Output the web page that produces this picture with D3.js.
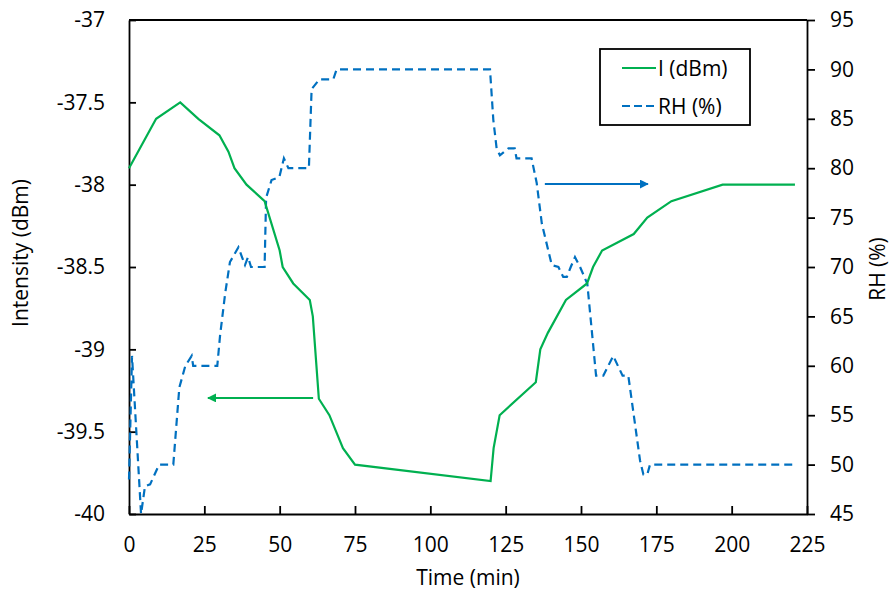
<!DOCTYPE html>
<html>
<head>
<meta charset="utf-8">
<script src="https://cdn.jsdelivr.net/npm/d3@7"></script>
<style>
  body { margin: 0; background: #fff; }
  #graf text { font-family: 'Open Sans', Lato, sans-serif; fill: #000; }
</style>
</head>
<body>
<div id="graf"></div>
<script>
// I. Datos
tiempoI = [0, 9, 17, 23, 30, 33, 35, 39, 45, 50, 51, 54.5, 60, 61, 63, 66.5, 71, 75,
           120, 121, 123, 135, 136.5, 139, 145, 152, 154, 157, 167.5, 172, 180, 197, 221]
intensidad = [-37.9, -37.6, -37.5, -37.6, -37.7, -37.8, -37.9, -38.0, -38.1, -38.4, -38.5, -38.6,
              -38.7, -38.8, -39.3, -39.4, -39.6, -39.7, -39.8, -39.6, -39.4, -39.2, -39.0, -38.9,
              -38.7, -38.6, -38.5, -38.4, -38.3, -38.2, -38.1, -38.0, -38.0]

tiempoRH = [0, 1, 4, 5.3, 7, 10, 14.7, 16.7, 18.7, 20.8, 21.3, 29.3, 30.2, 31.9, 33.5, 36.3,
            37.5, 38.5, 39.5, 40.5, 45, 45.5, 47.3, 49.9, 51.4, 52.9, 59.7, 60.6, 63.2, 67.8,
            68.9, 119.8, 120.9, 122, 123.1, 125.9, 128, 128.6, 133.6, 135.3, 137, 140.3, 142.5,
            144.1, 145.3, 146.6, 148, 149.7, 152.1, 155, 157.4, 160.7, 163.8, 165.7, 169.6,
            170.7, 172, 172.9, 221]
rh = [48.5, 61, 45, 47.8, 48, 50, 50, 57.8, 60, 61, 60, 60, 63, 67.3, 70.5, 72, 71, 70.2,
      71, 70, 70, 77, 78.8, 79.1, 81, 80, 80, 88, 89, 89, 90, 90, 84.9, 82, 81.3, 82, 82, 81,
      81, 78.5, 74.4, 70.2, 70, 69, 69, 70, 71, 70, 68.3, 59, 59, 61, 59, 59, 50.4, 49, 49,
      50, 50]

ticksX = [0, 25, 50, 75, 100, 125, 150, 175, 200, 225]
ticksI = [-40, -39.5, -39, -38.5, -38, -37.5, -37]
ticksRH = [45, 50, 55, 60, 65, 70, 75, 80, 85, 90, 95]

// flechas: [tiempo inicio, tiempo fin, valor]
flechaI = [61.1, 26.2, -39.295]
flechaRH = [138, 172.2, 78.4]

verde = '#00B050'
azul = '#0070C0'

// II. Configuración
ancho_total = 892
alto_total = 593
margins = { top: 20, left: 129, right: 85, bottom: 79 }
ancho = ancho_total - margins.left - margins.right
alto = alto_total - margins.top - margins.bottom

svg = d3.select('#graf').append('svg')
        .attr('width', ancho_total)
        .attr('height', alto_total)

g = svg.append('g')
       .attr('transform', `translate(${ margins.left }, ${ margins.top })`)

x = d3.scaleLinear().domain([0, 225]).range([0, ancho])
yI = d3.scaleLinear().domain([-40, -37]).range([alto, 0])
yRH = d3.scaleLinear().domain([45, 95]).range([alto, 0])

defs = svg.append('defs')
function marcador(id, color) {
  defs.append('marker')
      .attr('id', id)
      .attr('viewBox', '0 0 10 10')
      .attr('refX', 9).attr('refY', 5)
      .attr('markerWidth', 4.5).attr('markerHeight', 4.5)
      .attr('orient', 'auto')
    .append('path')
      .attr('d', 'M0,0 L10,5 L0,10 Z')
      .attr('fill', color)
}
marcador('flechaVerde', verde)
marcador('flechaAzul', azul)

// III. Ejes
tamFuente = '21px'

xAxisGroup = g.append('g')
              .attr('transform', `translate(0, ${ alto })`)
              .call(d3.axisBottom(x).tickValues(ticksX).tickSizeInner(-8).tickSizeOuter(0).tickPadding(23))
yAxisGroup = g.append('g')
              .call(d3.axisLeft(yI).tickValues(ticksI).tickFormat(d => String(d))
                      .tickSizeInner(-7).tickSizeOuter(0).tickPadding(24))
y2AxisGroup = g.append('g')
               .attr('transform', `translate(${ ancho }, 0)`)
               .call(d3.axisRight(yRH).tickValues(ticksRH).tickSizeInner(8).tickSizeOuter(0).tickPadding(15))

g.selectAll('.domain, .tick line').attr('stroke', '#000').attr('stroke-width', 1.8)
g.selectAll('.tick text').style('font-size', tamFuente).attr('fill', '#000')

// borde superior
g.append('line')
 .attr('x1', 0).attr('x2', ancho)
 .attr('y1', 0).attr('y2', 0)
 .attr('stroke', '#000').attr('stroke-width', 1.8)

// títulos de ejes
svg.append('text')
   .attr('transform', `translate(28, 253) rotate(-90)`)
   .attr('text-anchor', 'middle')
   .style('font-size', tamFuente)
   .text('Intensity (dBm)')
svg.append('text')
   .attr('transform', `translate(885, 269) rotate(-90)`)
   .attr('text-anchor', 'middle')
   .style('font-size', tamFuente)
   .text('RH (%)')
svg.append('text')
   .attr('x', 468).attr('y', 585)
   .attr('text-anchor', 'middle')
   .style('font-size', tamFuente)
   .text('Time (min)')

// IV. Series
datosI = tiempoI.map((t, i) => ({ t: t, v: intensidad[i] }))
datosRH = tiempoRH.map((t, i) => ({ t: t, v: rh[i] }))

lineaI = d3.line().x(d => x(d.t)).y(d => yI(d.v))
lineaRH = d3.line().x(d => x(d.t)).y(d => yRH(d.v))

g.append('path')
 .datum(datosRH)
 .attr('d', lineaRH)
 .attr('fill', 'none')
 .attr('stroke', azul)
 .attr('stroke-width', 2.2)
 .attr('stroke-dasharray', '8,5')

g.append('path')
 .datum(datosI)
 .attr('d', lineaI)
 .attr('fill', 'none')
 .attr('stroke', verde)
 .attr('stroke-width', 2.2)

// flechas
g.append('line')
 .attr('x1', x(flechaI[0])).attr('x2', x(flechaI[1]))
 .attr('y1', yI(flechaI[2])).attr('y2', yI(flechaI[2]))
 .attr('stroke', verde).attr('stroke-width', 2)
 .attr('marker-end', 'url(#flechaVerde)')
g.append('line')
 .attr('x1', x(flechaRH[0])).attr('x2', x(flechaRH[1]))
 .attr('y1', yRH(flechaRH[2])).attr('y2', yRH(flechaRH[2]))
 .attr('stroke', azul).attr('stroke-width', 2)
 .attr('marker-end', 'url(#flechaAzul)')

// V. Leyenda
ley = svg.append('g').attr('transform', 'translate(600, 49)')
ley.append('rect')
   .attr('width', 150).attr('height', 76)
   .attr('fill', '#fff')
   .attr('stroke', '#000').attr('stroke-width', 1.8)
ley.append('line')
   .attr('x1', 22).attr('x2', 56).attr('y1', 19).attr('y2', 19)
   .attr('stroke', verde).attr('stroke-width', 2.2)
ley.append('text')
   .attr('x', 58).attr('y', 27)
   .style('font-size', tamFuente)
   .text('I (dBm)')
ley.append('line')
   .attr('x1', 22).attr('x2', 56).attr('y1', 57).attr('y2', 57)
   .attr('stroke', azul).attr('stroke-width', 2.2)
   .attr('stroke-dasharray', '8,4')
ley.append('text')
   .attr('x', 58).attr('y', 65)
   .style('font-size', tamFuente)
   .text('RH (%)')
</script>
</body>
</html>
